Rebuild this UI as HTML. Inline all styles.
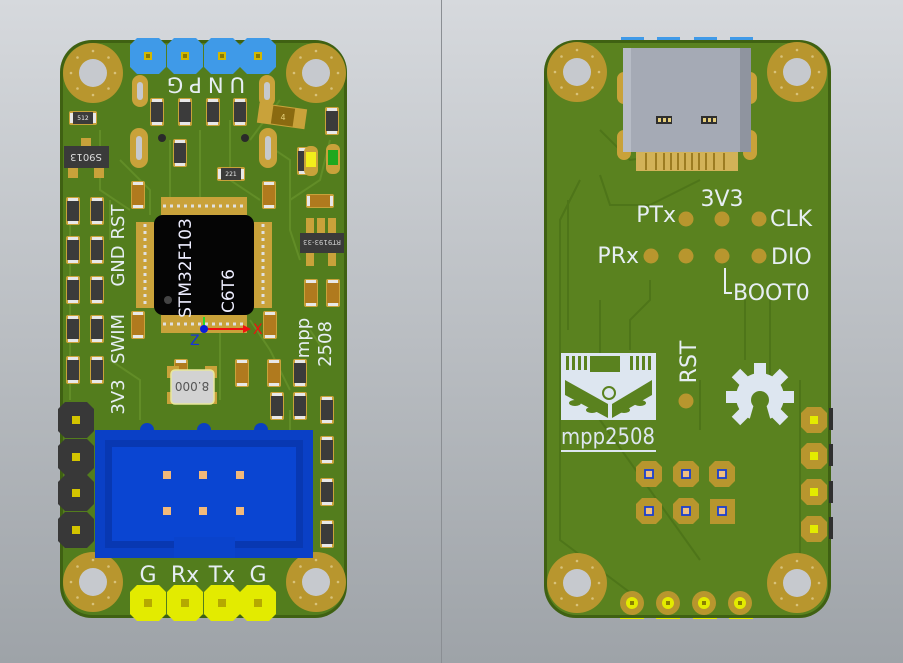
<!DOCTYPE html>
<html><head><meta charset="utf-8"><style>
html,body{margin:0;padding:0;width:903px;height:663px;overflow:hidden;background:#c4c7cb}
svg{display:block}
text{font-family:"DejaVu Sans","Liberation Sans",sans-serif}
</style></head><body>
<svg width="903" height="663" viewBox="0 0 903 663" xmlns="http://www.w3.org/2000/svg">
<defs>
<linearGradient id="bg" x1="0" y1="0" x2="0" y2="1">
<stop offset="0" stop-color="#d6d9dd"/><stop offset="1" stop-color="#9ea3a8"/></linearGradient>
<g id="rv"><rect x="-7" y="-14" width="14" height="28" rx="2" fill="#c9a23a"/><rect x="-6" y="-10" width="12" height="20" fill="#3b3b3b"/><rect x="-5" y="-13" width="10" height="3" fill="#e8e8e8"/><rect x="-5" y="10" width="10" height="3" fill="#e8e8e8"/></g>
<g id="rt"><rect x="-7" y="-14" width="14" height="28" rx="2" fill="#c9a23a"/><rect x="-6" y="-10" width="12" height="20" fill="#b07a1e"/><rect x="-5" y="-13" width="10" height="3" fill="#e8e8e8"/><rect x="-5" y="10" width="10" height="3" fill="#e8e8e8"/></g>
<g id="hole"><circle r="30" fill="#b8962e"/><circle r="14" fill="#c6c9ce"/><g fill="#d8c27a"><circle cx="0" cy="-22" r="1.3"/><circle cx="0" cy="22" r="1.3"/><circle cx="-22" cy="0" r="1.3"/><circle cx="22" cy="0" r="1.3"/><circle cx="15.5" cy="15.5" r="1.3"/><circle cx="-15.5" cy="15.5" r="1.3"/><circle cx="15.5" cy="-15.5" r="1.3"/><circle cx="-15.5" cy="-15.5" r="1.3"/></g></g>
<polygon id="oct" points="-11,-18 11,-18 18,-11 18,11 11,18 -11,18 -18,11 -18,-11"/>
<polygon id="oct2" points="-7,-13 7,-13 13,-7 13,7 7,13 -7,13 -13,7 -13,-7"/>
</defs>
<rect width="903" height="663" fill="url(#bg)"/>
<line x1="441.5" y1="0" x2="441.5" y2="663" stroke="#8a8e93" stroke-width="1"/>

<!-- LEFT BOARD -->
<rect x="60" y="40" width="287" height="578" rx="32" fill="#3f6112"/>
<rect x="63" y="43" width="281" height="572" rx="29" fill="#537d1d"/>
<g stroke="#628d27" stroke-width="2" fill="none">
<path d="M100 130 L100 190 L130 210 M120 160 L150 190 L150 215 M200 130 L200 200 M230 120 L230 180 L260 200 M260 140 L290 160 L290 230 L300 260 M110 360 L140 380 L140 420 M220 330 L220 400 M250 320 L270 350 L290 390 M310 330 L330 360 M290 200 L320 180 L330 140 M70 200 L70 400 M110 200 L110 240 M170 140 L170 200 M250 140 L280 100 M290 410 L290 430"/>
</g>
<use href="#hole" x="93" y="73"/><use href="#hole" x="316" y="73"/>
<use href="#hole" x="93" y="582"/><use href="#hole" x="316" y="582"/>
<g fill="#c9a23a"><rect x="132" y="75" width="16" height="32" rx="8"/><rect x="259" y="75" width="16" height="32" rx="8"/><rect x="130" y="128" width="18" height="40" rx="9"/><rect x="259" y="128" width="18" height="40" rx="9"/></g>
<g fill="#c6c9ce"><rect x="137" y="82" width="6" height="18" rx="3"/><rect x="264" y="82" width="6" height="18" rx="3"/><rect x="136" y="136" width="6" height="24" rx="3"/><rect x="265" y="136" width="6" height="24" rx="3"/></g>
<circle cx="162" cy="138" r="4" fill="#2a2a2a"/><circle cx="245" cy="138" r="4" fill="#2a2a2a"/>
<g fill="#3f9ae8"><use href="#oct" x="148" y="56"/><use href="#oct" x="185" y="56"/><use href="#oct" x="222" y="56"/><use href="#oct" x="258" y="56"/></g>
<g fill="#d3b800"><rect x="144" y="52" width="8" height="8"/><rect x="181" y="52" width="8" height="8"/><rect x="218" y="52" width="8" height="8"/><rect x="254" y="52" width="8" height="8"/></g>
<g fill="#8a7a00"><rect x="146" y="54" width="4" height="4"/><rect x="183" y="54" width="4" height="4"/><rect x="220" y="54" width="4" height="4"/><rect x="256" y="54" width="4" height="4"/></g>
<text transform="translate(203 85) rotate(180)" y="7.5" font-size="21" fill="#e6eef3" text-anchor="middle" letter-spacing="6">UNPG</text>
<g>
<use href="#rv" x="157" y="112"/><use href="#rv" x="185" y="112"/><use href="#rv" x="213" y="112"/><use href="#rv" x="240" y="112"/>
<use href="#rv" x="180" y="153"/><use href="#rt" x="138" y="195"/><use href="#rt" x="269" y="195"/>
<use href="#rv" x="332" y="121"/><use href="#rv" x="304" y="161"/>
<use href="#rv" x="73" y="211"/><use href="#rv" x="97" y="211"/><use href="#rv" x="73" y="250"/><use href="#rv" x="97" y="250"/>
<use href="#rv" x="73" y="290"/><use href="#rv" x="97" y="290"/><use href="#rv" x="73" y="329"/><use href="#rv" x="97" y="329"/>
<use href="#rv" x="73" y="370"/><use href="#rv" x="97" y="370"/>
<use href="#rt" x="138" y="325"/><use href="#rt" x="270" y="325"/>
<use href="#rt" x="311" y="293"/><use href="#rt" x="333" y="293"/>
<use href="#rt" x="181" y="373"/><use href="#rt" x="242" y="373"/><use href="#rt" x="274" y="373"/>
<use href="#rv" x="300" y="373"/><use href="#rv" x="277" y="406"/><use href="#rv" x="300" y="406"/>
<use href="#rv" x="327" y="410"/><use href="#rv" x="327" y="450"/><use href="#rv" x="327" y="492"/><use href="#rv" x="327" y="534"/>
<use href="#rv" x="83" y="118" transform="rotate(90 83 118)"/>
<use href="#rv" x="231" y="174" transform="rotate(90 231 174)"/>
<use href="#rt" x="320" y="201" transform="rotate(90 320 201)"/>
</g>
<g font-size="6" fill="#eee" text-anchor="middle">
<text x="83" y="120">512</text><text x="231" y="176">221</text>
</g>
<rect x="304" y="146" width="14" height="30" rx="6" fill="#c9a23a"/><rect x="306" y="152" width="10" height="15" fill="#f2ef1a"/>
<rect x="326" y="144" width="14" height="30" rx="6" fill="#c9a23a"/><rect x="328" y="150" width="10" height="15" fill="#1ea81e"/>
<rect x="258" y="106" width="48" height="20" fill="#c9a23a" transform="rotate(8 282 116)"/>
<rect x="272" y="107" width="22" height="18" fill="#8a6a10" transform="rotate(8 282 116)"/>
<text x="283" y="120" font-size="8" fill="#e7d27a" text-anchor="middle">4</text>
<rect x="81" y="138" width="10" height="10" fill="#c9a23a"/><rect x="68" y="168" width="10" height="10" fill="#c9a23a"/><rect x="94" y="168" width="10" height="10" fill="#c9a23a"/>
<rect x="64" y="146" width="45" height="22" fill="#3a3a3a"/>
<text x="86" y="162" font-size="10" fill="#ddd" text-anchor="middle" transform="rotate(180 86 158)">S9013</text>
<g fill="#c9a23a"><rect x="306" y="218" width="8" height="16"/><rect x="317" y="218" width="8" height="16"/><rect x="328" y="218" width="8" height="16"/><rect x="306" y="250" width="8" height="16"/><rect x="328" y="250" width="8" height="16"/></g>
<rect x="300" y="233" width="44" height="20" fill="#3a3a3a"/>
<text x="322" y="246" font-size="7" fill="#ccc" text-anchor="middle" transform="rotate(180 322 243)">RT9193-33</text>
<rect x="161" y="197" width="86" height="18" fill="#c9a23a"/>
<rect x="161" y="315" width="86" height="18" fill="#c9a23a"/>
<rect x="136" y="222" width="18" height="86" fill="#c9a23a"/>
<rect x="254" y="222" width="18" height="86" fill="#c9a23a"/>
<g stroke="#e0e0e0" stroke-width="3" stroke-dasharray="3 4">
<line x1="163" y1="206" x2="247" y2="206"/><line x1="163" y1="324" x2="247" y2="324"/>
<line x1="145" y1="224" x2="145" y2="308"/><line x1="263" y1="224" x2="263" y2="308"/>
</g>
<rect x="154" y="215" width="100" height="100" rx="9" fill="#050505"/>
<circle cx="168" cy="300" r="4" fill="#444"/>
<text x="185" y="268" font-size="17" fill="#eef" text-anchor="middle" transform="rotate(-90 185 268)" dy="6">STM32F103</text>
<text x="228" y="291" font-size="17" fill="#eef" text-anchor="middle" transform="rotate(-90 228 291)" dy="6">C6T6</text>
<line x1="204" y1="317" x2="204" y2="328" stroke="#2bd82b" stroke-width="2"/>
<line x1="204" y1="329" x2="243" y2="329" stroke="#f01010" stroke-width="2"/>
<polygon points="243,325 251,329 243,333" fill="#f01010"/>
<circle cx="204" cy="329" r="4" fill="#0a1fd8"/>
<text x="190" y="345" font-size="14" fill="#1530e0">Z</text>
<text x="253" y="334" font-size="14" fill="#f01010">X</text>
<g fill="#c9a23a"><rect x="167" y="366" width="12" height="12"/><rect x="205" y="366" width="12" height="12"/><rect x="167" y="392" width="12" height="12"/><rect x="205" y="392" width="12" height="12"/></g>
<rect x="171" y="370" width="43" height="34" rx="4" fill="#d2d2d2" stroke="#e8e89a" stroke-width="1.5"/>
<text x="192" y="392" font-size="12" fill="#555" text-anchor="middle" transform="rotate(180 192 387)">8.000</text>
<g font-size="18" fill="#e6eef3" text-anchor="middle">
<text transform="translate(118 222) rotate(-90)" dy="6">RST</text>
<text transform="translate(118 266) rotate(-90)" dy="6">GND</text>
<text transform="translate(118 339) rotate(-90)" dy="6">SWIM</text>
<text transform="translate(118 397) rotate(-90)" dy="6">3V3</text>
<text transform="translate(303 338) rotate(-90)" dy="6">mpp</text>
<text transform="translate(325 344) rotate(-90)" dy="6">2508</text>
</g>
<g fill="#383838"><use href="#oct" x="76" y="420"/><use href="#oct" x="76" y="457"/><use href="#oct" x="76" y="493"/><use href="#oct" x="76" y="530"/></g>
<g fill="#d3c400"><rect x="72" y="416" width="8" height="8"/><rect x="72" y="453" width="8" height="8"/><rect x="72" y="489" width="8" height="8"/><rect x="72" y="526" width="8" height="8"/></g>
<circle cx="147" cy="430" r="7" fill="#0a3fc4"/><circle cx="204" cy="430" r="7" fill="#0a3fc4"/><circle cx="261" cy="430" r="7" fill="#0a3fc4"/>
<rect x="95" y="430" width="218" height="128" fill="#0a40c6"/>
<rect x="105" y="440" width="198" height="108" fill="#0838b2"/>
<rect x="112" y="447" width="184" height="94" fill="#0a45d2"/>
<rect x="174" y="537" width="61" height="21" fill="#0a43cc"/>
<g fill="#f2b97a"><rect x="163" y="471" width="8" height="8"/><rect x="199" y="471" width="8" height="8"/><rect x="236" y="471" width="8" height="8"/><rect x="163" y="507" width="8" height="8"/><rect x="199" y="507" width="8" height="8"/><rect x="236" y="507" width="8" height="8"/></g>
<g font-size="22" fill="#e6eef3" text-anchor="middle">
<text x="148" y="582">G</text><text x="185" y="582">Rx</text><text x="222" y="582">Tx</text><text x="258" y="582">G</text>
</g>
<g fill="#e3eb00"><use href="#oct" x="148" y="603"/><use href="#oct" x="185" y="603"/><use href="#oct" x="222" y="603"/><use href="#oct" x="258" y="603"/></g>
<g fill="#b5a900"><rect x="144" y="599" width="8" height="8"/><rect x="181" y="599" width="8" height="8"/><rect x="218" y="599" width="8" height="8"/><rect x="254" y="599" width="8" height="8"/></g>

<!-- RIGHT BOARD -->
<g fill="#3f9ae8"><rect x="621" y="37" width="23" height="4"/><rect x="657" y="37" width="23" height="4"/><rect x="694" y="37" width="23" height="4"/><rect x="730" y="37" width="23" height="4"/></g>
<g fill="#e3eb00"><rect x="620" y="616" width="24" height="3"/><rect x="656" y="616" width="24" height="3"/><rect x="693" y="616" width="24" height="3"/><rect x="729" y="616" width="24" height="3"/></g>
<rect x="544" y="40" width="287" height="578" rx="32" fill="#3f6112"/>
<rect x="547" y="43" width="281" height="572" rx="29" fill="#5a821f"/>
<g stroke="#4e7519" stroke-width="2" fill="none">
<path d="M568 200 L568 330 M580 180 L560 220 L560 540 L640 600 M600 300 L600 420 L700 560 M710 130 L700 150 L630 160 L600 130 M655 130 L655 150 M700 430 L700 380 M745 300 L745 360 M770 300 L770 420 M630 350 L630 320 L650 300 L650 280 M800 380 L800 600 M700 180 L650 205 L610 205 L600 175"/>
</g>
<use href="#hole" x="577" y="72"/><use href="#hole" x="797" y="72"/>
<use href="#hole" x="577" y="583"/><use href="#hole" x="797" y="583"/>
<g fill="#c9a23a"><rect x="617" y="72" width="14" height="32" rx="7"/><rect x="743" y="72" width="14" height="32" rx="7"/><rect x="617" y="130" width="14" height="30" rx="7"/><rect x="743" y="130" width="14" height="30" rx="7"/></g>
<rect x="636" y="152" width="102" height="19" fill="#d2b258"/>
<g stroke="#8a6a10" stroke-width="1.5"><line x1="646" y1="153" x2="646" y2="170"/><line x1="656" y1="153" x2="656" y2="170"/><line x1="664" y1="153" x2="664" y2="170"/><line x1="671" y1="153" x2="671" y2="170"/><line x1="678" y1="153" x2="678" y2="170"/><line x1="685" y1="153" x2="685" y2="170"/><line x1="692" y1="153" x2="692" y2="170"/><line x1="699" y1="153" x2="699" y2="170"/><line x1="706" y1="153" x2="706" y2="170"/><line x1="714" y1="153" x2="714" y2="170"/><line x1="724" y1="153" x2="724" y2="170"/></g>
<rect x="623" y="48" width="128" height="104" rx="3" fill="#a5aab5"/>
<rect x="623" y="48" width="8" height="104" fill="#b7bcc6"/><rect x="740" y="48" width="11" height="104" fill="#8f949f"/>
<rect x="656" y="116" width="16" height="8" fill="#2f2f2f"/><rect x="701" y="116" width="16" height="8" fill="#2f2f2f"/>
<g fill="#e3cc7a"><rect x="658" y="118" width="3" height="4"/><rect x="663" y="118" width="3" height="4"/><rect x="668" y="118" width="3" height="4"/><rect x="703" y="118" width="3" height="4"/><rect x="708" y="118" width="3" height="4"/><rect x="713" y="118" width="3" height="4"/></g>
<g fill="#b8962e"><circle cx="686" cy="219" r="7.5"/><circle cx="722" cy="219" r="7.5"/><circle cx="759" cy="219" r="7.5"/><circle cx="651" cy="256" r="7.5"/><circle cx="686" cy="256" r="7.5"/><circle cx="722" cy="256" r="7.5"/><circle cx="759" cy="256" r="7.5"/><circle cx="686" cy="401" r="7.5"/></g>
<g font-size="22" fill="#e6eef3">
<text x="722" y="206" text-anchor="middle">3V3</text>
<text x="676" y="222" text-anchor="end">PTx</text>
<text x="770" y="226">CLK</text>
<text x="639" y="263" text-anchor="end">PRx</text>
<text x="771" y="264">DIO</text>
<text x="733" y="300">BOOT0</text>
<text transform="translate(688 362) rotate(-90)" text-anchor="middle" dy="8">RST</text>
</g>
<path d="M725 268 L725 293 L732 293" stroke="#e6eef3" stroke-width="2" fill="none"/>
<g fill="#dde6f0" transform="translate(760 397)">
<circle r="24"/>
<g><rect x="-6" y="-34" width="12" height="14"/><rect x="-6" y="-34" width="12" height="14" transform="rotate(45)"/><rect x="-6" y="-34" width="12" height="14" transform="rotate(90)"/><rect x="-6" y="-34" width="12" height="14" transform="rotate(135)"/><rect x="-6" y="-34" width="12" height="14" transform="rotate(-45)"/><rect x="-6" y="-34" width="12" height="14" transform="rotate(-90)"/><rect x="-6" y="-34" width="12" height="14" transform="rotate(-135)"/></g>
</g>
<circle cx="760" cy="400" r="9" fill="#5a821f"/><polygon points="754,404 766,404 772,425 748,425" fill="#5a821f"/>
<rect x="561" y="353" width="95" height="67" fill="#dde6f0"/>
<g fill="#5a821f">
<rect x="590" y="356" width="30" height="16"/>
<polygon points="565,380 608,404 608,418 565,395"/>
<polygon points="652,380 612,404 612,418 652,395"/>
<ellipse cx="575" cy="403" rx="6" ry="3"/><ellipse cx="592" cy="410" rx="6" ry="3"/><ellipse cx="640" cy="403" rx="6" ry="3"/><ellipse cx="624" cy="410" rx="6" ry="3"/>
<rect x="566" y="356" width="3" height="14"/><rect x="572" y="356" width="3" height="14"/><rect x="578" y="356" width="3" height="14"/><rect x="584" y="356" width="3" height="14"/><rect x="630" y="356" width="3" height="14"/><rect x="636" y="356" width="3" height="14"/><rect x="642" y="356" width="3" height="14"/><rect x="648" y="356" width="3" height="14"/>
</g>
<circle cx="609" cy="393" r="6" fill="none" stroke="#5a821f" stroke-width="2"/>
<text x="608" y="444" font-size="22" fill="#dde6f0" text-anchor="middle" textLength="94" lengthAdjust="spacingAndGlyphs">mpp2508</text>
<rect x="561" y="450" width="95" height="2" fill="#dde6f0"/>
<g fill="#b8962e"><use href="#oct2" x="649" y="474"/><use href="#oct2" x="686" y="474"/><use href="#oct2" x="722" y="474"/><use href="#oct2" x="649" y="511"/><use href="#oct2" x="686" y="511"/><rect x="710" y="499" width="25" height="25"/></g>
<g fill="#f0c080" stroke="#1a3fd0" stroke-width="1.8"><rect x="645" y="470" width="8" height="8"/><rect x="682" y="470" width="8" height="8"/><rect x="718" y="470" width="8" height="8"/><rect x="645" y="507" width="8" height="8"/><rect x="682" y="507" width="8" height="8"/><rect x="718" y="507" width="8" height="8"/></g>
<g fill="#2f2f2f"><rect x="829" y="408" width="4" height="22"/><rect x="829" y="444" width="4" height="22"/><rect x="829" y="481" width="4" height="22"/><rect x="829" y="517" width="4" height="22"/></g>
<g fill="#b8962e"><use href="#oct2" x="814" y="420"/><use href="#oct2" x="814" y="456"/><use href="#oct2" x="814" y="492"/><use href="#oct2" x="814" y="529"/></g>
<g fill="#e3eb00"><rect x="810" y="416" width="8" height="8"/><rect x="810" y="452" width="8" height="8"/><rect x="810" y="488" width="8" height="8"/><rect x="810" y="525" width="8" height="8"/></g>
<g fill="#b8962e"><circle cx="632" cy="603" r="12"/><circle cx="668" cy="603" r="12"/><circle cx="704" cy="603" r="12"/><circle cx="740" cy="603" r="12"/></g>
<g fill="#e3eb00"><circle cx="632" cy="603" r="6"/><circle cx="668" cy="603" r="6"/><circle cx="704" cy="603" r="6"/><circle cx="740" cy="603" r="6"/></g>
<g fill="#8a8000"><rect x="630" y="601" width="4" height="4"/><rect x="666" y="601" width="4" height="4"/><rect x="702" y="601" width="4" height="4"/><rect x="738" y="601" width="4" height="4"/></g>
</svg>
</body></html>
